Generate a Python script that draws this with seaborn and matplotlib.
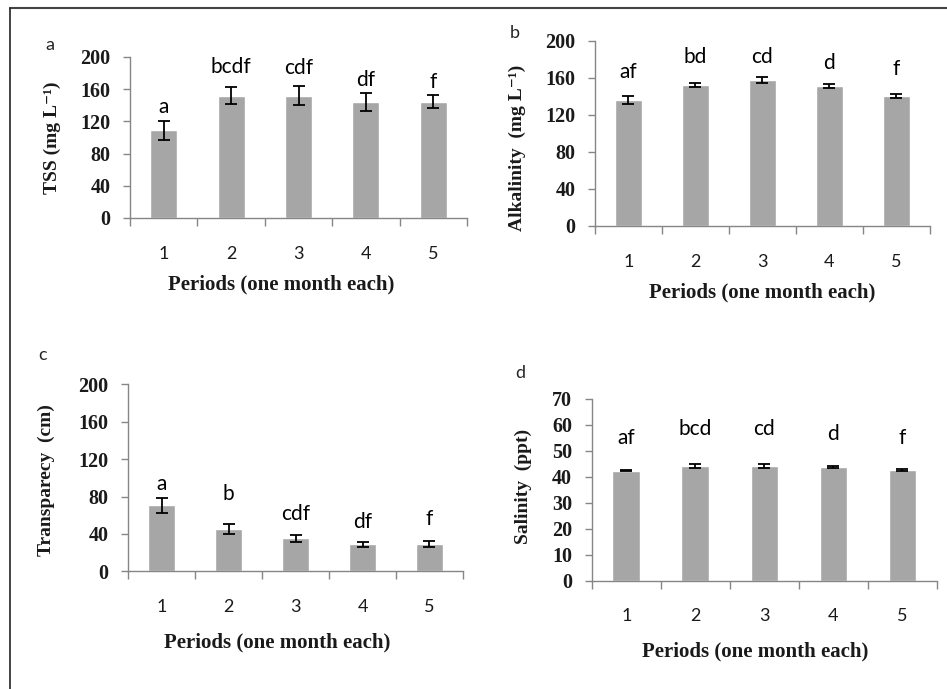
import numpy as np
import matplotlib
matplotlib.use("Agg")
import matplotlib.pyplot as plt
from matplotlib.lines import Line2D
import seaborn as sns

sns.set_style("ticks")
plt.rcParams['font.family'] = ['Lato', 'DejaVu Sans']

periods = ['1', '2', '3', '4', '5']

tss = [109, 152, 152, 144.5, 144.5]
tss_err = [12, 11, 12, 11, 8]
tss_letters = ['a', 'bcdf', 'cdf', 'df', 'f']
tss_letter_y = [138, 187, 186, 172, 169]

alk = [136, 152.8, 157.8, 151.4, 140.9]
alk_err = [4.5, 2, 3, 2, 2]
alk_letters = ['af', 'bd', 'cd', 'd', 'f']
alk_letter_y = [167, 183, 183, 176, 170]

trans = [70.9, 45.2, 35.3, 28.9, 28.9]
trans_err = [8, 5.6, 3.5, 2.5, 3]
trans_letters = ['a', 'b', 'cdf', 'df', 'f']
trans_letter_y = [93, 83, 61, 53, 55.5]

sal = [42.4, 44.3, 44.3, 43.7, 42.6]
sal_err = [0.3, 0.7, 0.7, 0.4, 0.3]
sal_letters = ['af', 'bcd', 'cd', 'd', 'f']
sal_letter_y = [55, 58.3, 58.3, 56.5, 55]

serif_bold = dict(family=['Liberation Serif', 'DejaVu Serif'], weight='bold')
axis_grey = '#868686'

fig = plt.figure(figsize=(9.47, 6.89), dpi=100)

panels = [
    # rect, values, errors, letters, letter y, ylabel, ylim, step, tag, tag pos, ylabel coords, xlabel coords
    ([0.1373, 0.6836, 0.3559, 0.2337], tss, tss_err, tss_letters, tss_letter_y,
     'TSS (mg L\u207b\u00b9)', 200, 40, 'a', (50, 45), (-0.231, 0.50), (0.448, -0.416)),
    ([0.6283, 0.6720, 0.3537, 0.2685], alk, alk_err, alk_letters, alk_letter_y,
     'Alkalinity  (mg L\u207b\u00b9)', 200, 40, 'b', (515, 33), (-0.233, 0.42), (0.50, -0.362)),
    ([0.1352, 0.1708, 0.3537, 0.2714], trans, trans_err, trans_letters, trans_letter_y,
     'Transparecy  (cm)', 200, 40, 'c', (43, 355), (-0.245, 0.49), (0.446, -0.383)),
    ([0.6248, 0.1572, 0.3646, 0.2637], sal, sal_err, sal_letters, sal_letter_y,
     'Salinity  (ppt)', 70, 10, 'd', (520, 373), (-0.199, 0.52), (0.474, -0.392)),
]

for rect, vals, errs, letters, ly, ylab, ymax, step, tag, tagpos, ylc, xlc in panels:
    ax = fig.add_axes(rect)
    sns.barplot(x=periods, y=vals, ax=ax, color='#a6a6a6', saturation=1,
                width=0.4, errorbar=None)
    ax.errorbar(range(len(vals)), vals, yerr=errs, fmt='none', ecolor='black',
                elinewidth=1.3, capsize=4, capthick=1.3)
    for i, (txt, y) in enumerate(zip(letters, ly)):
        ax.text(i, y, txt, ha='center', va='center', fontsize=15, color='black')

    ax.set_ylim(0, ymax)
    ax.set_yticks(np.arange(0, ymax + 1, step))
    ax.set_xlim(-0.5, 4.5)
    ax.set_xticks(np.arange(-0.5, 5, 1), minor=True)
    ax.tick_params(axis='x', which='major', length=0, pad=20, labelsize=13)
    ax.tick_params(axis='x', which='minor', length=6, width=1, color=axis_grey, direction='out')
    ax.tick_params(axis='y', length=5, width=1, color=axis_grey, direction='out', pad=9)
    plt.setp(ax.get_yticklabels(), size=14.5, color='#1a1a1a', **serif_bold)
    plt.setp(ax.get_xticklabels(), color='#1a1a1a')

    sns.despine(ax=ax)
    for side in ['left', 'bottom']:
        ax.spines[side].set_color(axis_grey)
        ax.spines[side].set_linewidth(1)

    ax.set_ylabel(ylab, fontsize=14, color='#1a1a1a', **serif_bold)
    ax.set_xlabel('Periods (one month each)', fontsize=15, color='#1a1a1a', **serif_bold)
    ax.yaxis.set_label_coords(*ylc)
    ax.xaxis.set_label_coords(*xlc)
    ax.yaxis.label.set_va('center')
    ax.xaxis.label.set_va('center')

    fig.text(tagpos[0] / 947, 1 - tagpos[1] / 689, tag, ha='center', va='center', fontsize=13)

# page frame (top and left edges)
fig.add_artist(Line2D([10 / 947, 1], [1 - 8 / 689, 1 - 8 / 689], color='#444444', lw=1.5))
fig.add_artist(Line2D([10 / 947, 10 / 947], [0, 1 - 8 / 689], color='#222222', lw=1.2))

fig.savefig('out.png', dpi=100)
